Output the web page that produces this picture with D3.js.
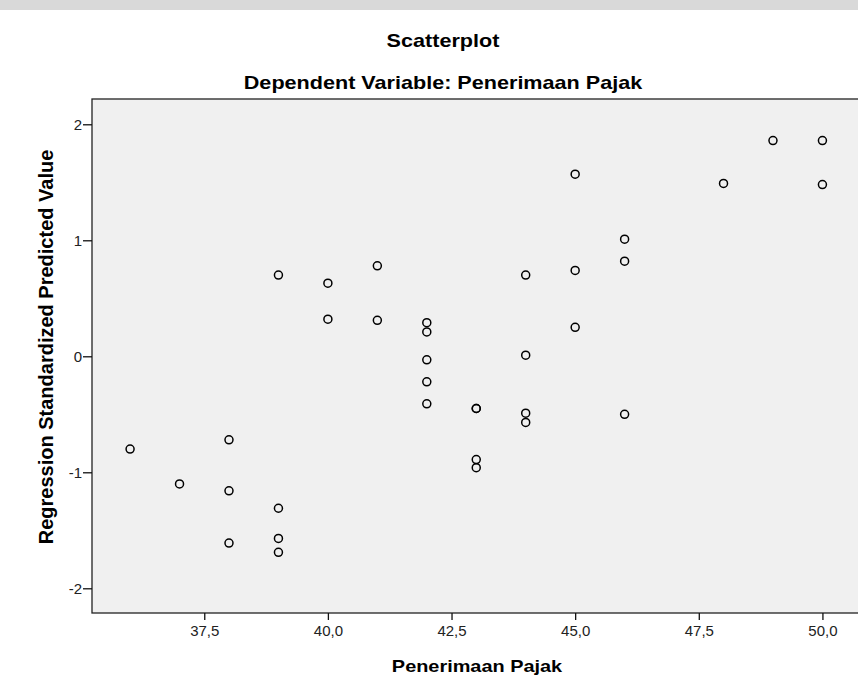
<!DOCTYPE html>
<html lang="en">
<head>
    <meta charset="UTF-8">
    <title>Scatterplot</title>
    <script src="https://d3js.org/d3.v7.min.js"></script>
    <style>
        body {
            margin: 0;
            background: #fff;
            font-family: "Liberation Sans", Arial, sans-serif;
        }
        svg { display: block; }
        .title { font-size: 18px; font-weight: bold; text-anchor: middle; }
        .x-title { font-size: 17px; font-weight: bold; text-anchor: middle; }
        .y-title { font-size: 20px; font-weight: bold; text-anchor: middle; }
        .tick text { font-size: 15px; fill: #222; font-family: "Liberation Sans", Arial, sans-serif; }
        .tick line { stroke: #111; stroke-width: 1.3px; }
        .pt { fill: none; stroke: #000; stroke-width: 1.5px; }
    </style>
</head>
<body>
<svg id="chart" width="858" height="690"></svg>
<script>
// Penerimaan Pajak (x) vs Regression Standardized Predicted Value (y)
const penerimaan = [36, 37, 38, 38, 38, 39, 39, 39, 39, 40, 40, 41, 41,
    42, 42, 42, 42, 42, 43, 43, 43, 43, 44, 44, 44, 44,
    45, 45, 45, 46, 46, 46, 48, 49, 50, 50];
const predicted = [-0.80, -1.10, -0.72, -1.16, -1.61, 0.70, -1.31, -1.57, -1.69, 0.63, 0.32, 0.78, 0.31,
    0.29, 0.21, -0.03, -0.22, -0.41, -0.45, -0.45, -0.89, -0.96, 0.70, 0.01, -0.49, -0.57,
    1.57, 0.74, 0.25, 1.01, 0.82, -0.50, 1.49, 1.86, 1.86, 1.48];

const xTicks = [37.5, 40, 42.5, 45, 47.5, 50];
const yTicks = [-2, -1, 0, 1, 2];

const points = penerimaan.map((v, i) => ({ x: v, y: predicted[i] }));

// comma decimal, plain hyphen minus (like SPSS output)
const locale = d3.formatLocale({ decimal: ",", thousands: ".", grouping: [3], currency: ["", ""], minus: "-" });

const svg = d3.select("#chart");

// grey band of the page watermark at the very top
svg.append("rect")
    .attr("x", 0).attr("y", 0)
    .attr("width", 858).attr("height", 10)
    .attr("fill", "#d9d9d9");

const plot = { left: 92, right: 861, top: 99, bottom: 613 };

const x = d3.scaleLinear().domain([35.23, 50.78]).range([plot.left, plot.right]);
const y = d3.scaleLinear().domain([-2.213, 2.218]).range([plot.bottom, plot.top]);

svg.append("rect")
    .attr("x", plot.left).attr("y", plot.top)
    .attr("width", plot.right - plot.left)
    .attr("height", plot.bottom - plot.top)
    .attr("fill", "#f0f0f0")
    .attr("stroke", "#222")
    .attr("stroke-width", 1.3);

const xAxis = svg.append("g")
    .attr("transform", `translate(0,${plot.bottom})`)
    .call(d3.axisBottom(x).tickValues(xTicks).tickSize(7).tickPadding(5)
        .tickFormat(locale.format(".1f")));
xAxis.select(".domain").remove();

const yAxis = svg.append("g")
    .attr("transform", `translate(${plot.left},0)`)
    .call(d3.axisLeft(y).tickValues(yTicks).tickSize(9).tickPadding(1)
        .tickFormat(locale.format("d")));
yAxis.select(".domain").remove();

svg.append("g").selectAll("circle")
    .data(points)
    .join("circle")
    .attr("class", "pt")
    .attr("cx", d => x(d.x))
    .attr("cy", d => y(d.y))
    .attr("r", 4);

// the source fonts are a little wider than Arial, hence the scaleX
svg.append("text").attr("class", "title")
    .attr("transform", "translate(443,47) scale(1.2,1)")
    .text("Scatterplot");

svg.append("text").attr("class", "title")
    .attr("transform", "translate(443,89) scale(1.2,1)")
    .text("Dependent Variable: Penerimaan Pajak");

svg.append("text").attr("class", "x-title")
    .attr("transform", "translate(477,672) scale(1.17,1)")
    .text("Penerimaan Pajak");

svg.append("text").attr("class", "y-title")
    .attr("transform", "translate(53,347) rotate(-90)")
    .text("Regression Standardized Predicted Value");
</script>
</body>
</html>
